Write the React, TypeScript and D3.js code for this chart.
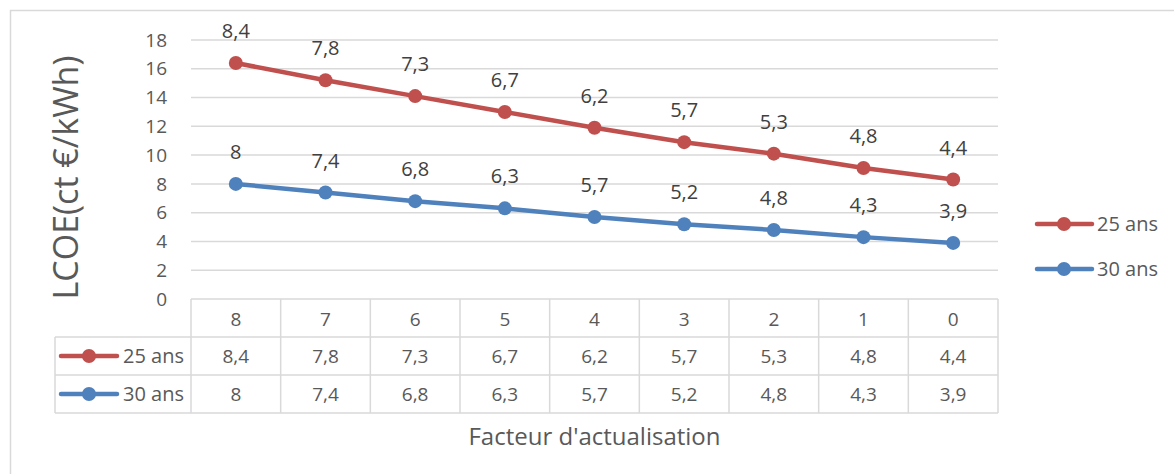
import React, { useEffect, useRef } from "react";
import * as d3 from "d3";

// Facteur d'actualisation (x categories)
const categories = ["8", "7", "6", "5", "4", "3", "2", "1", "0"];
// LCOE values, ct €/kWh
const lcoe25 = [8.4, 7.8, 7.3, 6.7, 6.2, 5.7, 5.3, 4.8, 4.4];
const lcoe30 = [8, 7.4, 6.8, 6.3, 5.7, 5.2, 4.8, 4.3, 3.9];
const yTicks = [0, 2, 4, 6, 8, 10, 12, 14, 16, 18];

const seriesNames = ["25 ans", "30 ans"];
const seriesColors = ["#C0504D", "#4F81BD"];

const W = 1174;
const H = 474;
const FONT = "'Open Sans', sans-serif";

const fmt = (v: number) => String(v).replace(".", ",");

export default function App() {
  const svgRef = useRef<SVGSVGElement>(null);

  useEffect(() => {
    if (!svgRef.current) return;
    const svg = d3.select(svgRef.current);
    svg.selectAll("*").remove();

    const plot = { left: 191, right: 998, top: 40, bottom: 299 };
    const rowH = 38;
    const headerH = 38;

    // outer chart border (right/bottom fall outside the picture)
    svg.append("rect")
      .attr("x", 10.5).attr("y", 10.5)
      .attr("width", 1300).attr("height", 600)
      .attr("fill", "#fff")
      .attr("stroke", "#d9d9d9").attr("stroke-width", 1.5);

    const x = d3.scaleBand<string>()
      .domain(categories)
      .range([plot.left, plot.right]);

    const y = d3.scaleLinear()
      .domain([0, 18])
      .range([plot.bottom, plot.top]);

    // stacked line chart: 30 ans at bottom, 25 ans stacked on top
    const rows = categories.map((c, i) => ({ cat: c, s30: lcoe30[i], s25: lcoe25[i] }));
    const stacked = d3.stack<any>().keys(["s30", "s25"])(rows);
    const series = [
      { name: seriesNames[0], color: seriesColors[0], labels: lcoe25, tops: stacked[1].map((d) => d[1]) },
      { name: seriesNames[1], color: seriesColors[1], labels: lcoe30, tops: stacked[0].map((d) => d[1]) },
    ];

    // gridlines
    svg.append("g")
      .selectAll("line")
      .data(yTicks.filter((t) => t > 0))
      .join("line")
      .attr("x1", plot.left).attr("x2", plot.right)
      .attr("y1", (d) => y(d)).attr("y2", (d) => y(d))
      .attr("stroke", "#d9d9d9").attr("stroke-width", 1.5);

    // y tick labels
    svg.append("g")
      .selectAll("text")
      .data(yTicks)
      .join("text")
      .attr("x", 167)
      .attr("y", (d) => y(d))
      .attr("dy", "0.35em")
      .attr("text-anchor", "end")
      .attr("font-family", FONT)
      .attr("font-size", 19)
      .attr("fill", "#595959")
      .text((d) => d);

    // y axis title
    svg.append("text")
      .attr("transform", `translate(78,${(plot.top + plot.bottom) / 2 + 8}) rotate(-90)`)
      .attr("text-anchor", "middle")
      .attr("font-family", FONT)
      .attr("font-size", 34)
      .attr("fill", "#595959")
      .text("LCOE(ct €/kWh)");

    // lines, markers, labels
    const line = d3.line<number>()
      .x((_, i) => (x(categories[i]) as number) + x.bandwidth() / 2)
      .y((d) => y(d));

    series.forEach((s) => {
      const g = svg.append("g");
      g.append("path")
        .datum(s.tops)
        .attr("fill", "none")
        .attr("stroke", s.color)
        .attr("stroke-width", 4.5)
        .attr("stroke-linejoin", "round")
        .attr("d", line);
      g.selectAll("circle")
        .data(s.tops)
        .join("circle")
        .attr("cx", (_, i) => (x(categories[i]) as number) + x.bandwidth() / 2)
        .attr("cy", (d) => y(d))
        .attr("r", 7)
        .attr("fill", s.color);
      g.selectAll("text")
        .data(s.tops)
        .join("text")
        .attr("x", (_, i) => (x(categories[i]) as number) + x.bandwidth() / 2)
        .attr("y", (d) => y(d) - 32)
        .attr("dy", "0.35em")
        .attr("text-anchor", "middle")
        .attr("font-family", FONT)
        .attr("font-size", 20)
        .attr("fill", "#404040")
        .text((_, i) => fmt(s.labels[i]));
    });

    // data table
    const tableTop = plot.bottom;
    const tableLeft = 55;
    const tg = svg.append("g");
    const gridColor = "#d9d9d9";
    const hLine = (yy: number, x1: number, x2: number) =>
      tg.append("line").attr("x1", x1).attr("x2", x2).attr("y1", yy).attr("y2", yy)
        .attr("stroke", gridColor).attr("stroke-width", 1.5);
    const vLine = (xx: number, y1: number, y2: number) =>
      tg.append("line").attr("x1", xx).attr("x2", xx).attr("y1", y1).attr("y2", y2)
        .attr("stroke", gridColor).attr("stroke-width", 1.5);

    const tableBottom = tableTop + headerH + rowH * 2;
    hLine(tableTop, plot.left, plot.right);
    hLine(tableTop + headerH, tableLeft, plot.right);
    hLine(tableTop + headerH + rowH, tableLeft, plot.right);
    hLine(tableBottom, tableLeft, plot.right);
    vLine(tableLeft, tableTop + headerH, tableBottom);
    categories.forEach((c) => vLine(x(c) as number, tableTop, tableBottom));
    vLine(plot.right, tableTop, tableBottom);

    // header row
    tg.selectAll("text.hdr")
      .data(categories)
      .join("text")
      .attr("class", "hdr")
      .attr("x", (d) => (x(d) as number) + x.bandwidth() / 2)
      .attr("y", tableTop + headerH / 2 + 1)
      .attr("dy", "0.35em")
      .attr("text-anchor", "middle")
      .attr("font-family", FONT)
      .attr("font-size", 19)
      .attr("fill", "#595959")
      .text((d) => d);

    series.forEach((s, si) => {
      const cy = tableTop + headerH + rowH * si + rowH / 2;
      tg.append("line")
        .attr("x1", 61).attr("x2", 117).attr("y1", cy).attr("y2", cy)
        .attr("stroke", s.color).attr("stroke-width", 4.5).attr("stroke-linecap", "round");
      tg.append("circle").attr("cx", 89).attr("cy", cy).attr("r", 7).attr("fill", s.color);
      tg.append("text")
        .attr("x", 184).attr("y", cy).attr("dy", "0.35em")
        .attr("text-anchor", "end")
        .attr("font-family", FONT).attr("font-size", 20)
        .attr("fill", "#595959")
        .text(s.name);
      tg.selectAll(`text.v${si}`)
        .data(s.labels)
        .join("text")
        .attr("class", `v${si}`)
        .attr("x", (_, i) => (x(categories[i]) as number) + x.bandwidth() / 2)
        .attr("y", cy)
        .attr("dy", "0.35em")
        .attr("text-anchor", "middle")
        .attr("font-family", FONT)
        .attr("font-size", 19)
        .attr("fill", "#595959")
        .text((d) => fmt(d));
    });

    // x axis title
    svg.append("text")
      .attr("x", (plot.left + plot.right) / 2)
      .attr("y", 437)
      .attr("dy", "0.35em")
      .attr("text-anchor", "middle")
      .attr("font-family", FONT)
      .attr("font-size", 24)
      .attr("fill", "#595959")
      .text("Facteur d'actualisation");

    // right legend
    const lg = svg.append("g");
    series.forEach((s, si) => {
      const cy = 224 + si * 45;
      lg.append("line")
        .attr("x1", 1037).attr("x2", 1092).attr("y1", cy).attr("y2", cy)
        .attr("stroke", s.color).attr("stroke-width", 4.5).attr("stroke-linecap", "round");
      lg.append("circle").attr("cx", 1064).attr("cy", cy).attr("r", 7).attr("fill", s.color);
      lg.append("text")
        .attr("x", 1097).attr("y", cy).attr("dy", "0.35em")
        .attr("font-family", FONT).attr("font-size", 20)
        .attr("fill", "#595959")
        .text(s.name);
    });
  }, []);

  return (
    <div style={{ position: "absolute", left: 0, top: 0, width: W, height: H, overflow: "hidden" }}>
      <svg ref={svgRef} width={W} height={H} style={{ display: "block" }} />
    </div>
  );
}
